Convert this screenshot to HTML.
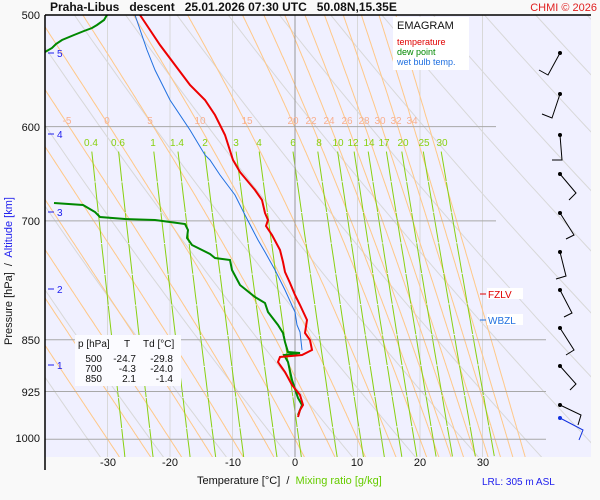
<!DOCTYPE html>
<html><head><meta charset="utf-8"><style>
html,body{margin:0;padding:0;background:#f9f9f9;}
svg{display:block;font-family:"Liberation Sans",sans-serif;}
</style></head><body>
<svg id="s" width="600" height="500" xmlns="http://www.w3.org/2000/svg">
<rect x="0" y="0" width="600" height="500" fill="#f9f9f9"/>
<rect x="45" y="15" width="546" height="442" fill="#f0f0ff"/>
<g id="bg"></g>
<g id="fg"></g>
</svg>
<script>
const NS="http://www.w3.org/2000/svg";
const bg=document.getElementById('bg'),fg=document.getElementById('fg');
const X=t=>295+6.25*t, Y=p=>15+612*Math.log(p/500);
function el(par,tag,at,txt){const e=document.createElementNS(NS,tag);for(const k in at)e.setAttribute(k,at[k]);if(txt!==undefined)e.textContent=txt;par.appendChild(e);return e;}
function poly(par,pts,st,w,da){const a={points:pts.map(p=>p[0].toFixed(1)+','+p[1].toFixed(1)).join(' '),fill:'none',stroke:st,'stroke-width':w};if(da)a['stroke-dasharray']=da;el(par,'polyline',a);}
const clip=el(bg,'clipPath',{id:'c'});el(clip,'rect',{x:45,y:15,width:546,height:442});
const g=el(bg,'g',{'clip-path':'url(#c)'});
for(let t=-30;t<=30;t+=10){if(t)el(g,'line',{x1:X(t),y1:15,x2:X(t),y2:457,stroke:'#d8d8d8','stroke-width':1});}
for(let th=230;th<=420;th+=10){const pts=[];for(let p=480;p<=1060;p+=10){pts.push([X(th*Math.pow(p/1000,0.286)-273.15),Y(p)]);}poly(g,pts,'#d8d8d8',1);}
function es(T){return 6.112*Math.exp(17.67*T/(T+243.5));}
function dT(p,T){const Tk=T+273.15,Rd=287,cp=1004,Lv=2.5e6,eps=0.622;const rs=eps*es(T)/(p-es(T));return (Rd*Tk+Lv*rs)/(p*(cp+Lv*Lv*rs*eps/(Rd*Tk*Tk)));}
function moist(tw){let T2=tw;for(let q=1000;q<1060;q+=2){T2+=2*dT(q,T2);}
 const arr=[];let Tp=T2;for(let q=1060;q>=480;q-=2){arr.push([X(Tp),Y(q)]);Tp-=2*dT(q,Tp);}return arr;}
[-30,-25,-20,-15,-10,-5,0,5,10,15,20,22,24,26,28,30,32,34,36].forEach(t=>poly(g,moist(t),'#ffc888',1));
[0.4,0.6,1,1.4,2,3,4,6,8,10,12,14,17,20,25,30].forEach(w=>{const pts=[];for(let p=625;p<=1060;p+=15){const e=w*p/(622+w);const l=Math.log(e/6.112);const td=243.5*l/(17.67-l);pts.push([X(td),Y(p)]);}poly(g,pts,'#88d010',1,'30 1');});
[[600,496],[700,496],[850,546],[925,546],[1000,546]].forEach(a=>el(g,'line',{x1:45,y1:Y(a[0]),x2:a[1],y2:Y(a[0]),stroke:'#a8a8a8','stroke-width':1}));
el(g,'line',{x1:295,y1:15,x2:295,y2:457,stroke:'#999','stroke-width':1});
[[-5,67],[0,107],[5,150],[10,200],[15,247],[20,293],[22,311],[24,329],[26,347],[28,364],[30,380],[32,396],[34,412]].forEach(a=>el(fg,'text',{x:a[1],y:124,'font-size':10,fill:'#f8b090','text-anchor':'middle'},a[0]));
[['0.4',91],['0.6',118],['1',153],['1.4',177],['2',205],['3',236],['4',259],['6',293],['8',319],['10',338],['12',353],['14',369],['17',384],['20',403],['25',424],['30',442]].forEach(a=>el(fg,'text',{x:a[1],y:146,'font-size':10,fill:'#88d010','text-anchor':'middle'},a[0]));
poly(fg,[[107,15],[104,20],[97,25],[92,28],[84,31],[74,35],[62,40],[56,44],[52,48],[45,52]],'#008800',2);
poly(fg,[[54,203],[83,205],[95,212],[100,217],[125,219],[155,220],[170,222],[185,224],[188,230],[187,238],[192,245],[210,254],[215,258],[230,260],[232,270],[240,285],[255,297],[265,303],[268,312],[278,325],[283,333],[285,342],[288,352],[300,353],[284,355],[288,362],[292,380],[298,398],[302,405],[300,410],[298,415]],'#008800',2);
poly(fg,[[135,15],[147,50],[155,70],[170,100],[190,130],[205,155],[210,160],[220,175],[235,195],[245,215],[258,240],[265,252],[275,270],[285,290],[295,312],[297,325],[300,332],[302,350]],'#2070e0',1);
poly(fg,[[140,15],[150,30],[160,45],[175,65],[190,85],[205,100],[215,115],[225,135],[233,160],[240,172],[255,190],[262,200],[265,213],[268,220],[266,226],[272,235],[280,250],[283,262],[285,272],[290,283],[295,295],[300,305],[307,320],[305,333],[310,340],[312,350],[302,355],[280,357],[278,362],[280,365],[285,372],[292,385],[300,395],[303,405],[300,410],[298,417]],'#ee0000',2);
[[5,55],[4,136],[3,214],[2,291],[1,367]].forEach(a=>{el(fg,'line',{x1:48,y1:a[1]-2,x2:54,y2:a[1]-2,stroke:'#2020ee'});el(fg,'text',{x:57,y:a[1]+2,'font-size':10,fill:'#2020ee'},a[0]);});
[[53,548,75,539,70],[94,552,118,542,114],[135,562,160,552,160],[174,576,193,569,200],[213,574,235,566,239],[252,566,276,556,279],[290,572,313,564,317],[328,574,350,566,355],[366,576,384,570,390],[405,581,415,578,425]].forEach(b=>{el(fg,'circle',{cx:560,cy:b[0],r:2,fill:'#000'});el(fg,'polyline',{points:`560,${b[0]} ${b[1]},${b[2]} ${b[3]},${b[4]}`,fill:'none',stroke:'#000','stroke-width':1});});
el(fg,'circle',{cx:560,cy:418,r:2,fill:'#1030e0'});el(fg,'polyline',{points:'560,418 583,430 579,440',fill:'none',stroke:'#1030e0','stroke-width':1});
</script>
<svg width="600" height="500" style="position:absolute;left:0;top:0" xmlns="http://www.w3.org/2000/svg" font-family="Liberation Sans, sans-serif">
<line x1="45" y1="15" x2="591" y2="15" stroke="#000" stroke-width="1.5"/>
<line x1="45" y1="15" x2="45" y2="470" stroke="#000" stroke-width="1.5"/>
<text x="50" y="11" font-size="12" font-weight="bold" fill="#111" style="white-space:pre" xml:space="preserve">Praha-Libus   descent   25.01.2026 07:30 UTC   50.08N,15.35E</text>
<text x="597" y="11" font-size="11" fill="#e02020" text-anchor="end">CHMI © 2026</text>
<g font-size="11" fill="#111" text-anchor="end">
<text x="40" y="19">500</text><text x="40" y="131">600</text><text x="40" y="225">700</text><text x="40" y="344">850</text><text x="40" y="396">925</text><text x="40" y="442">1000</text></g>
<g font-size="11" fill="#111" text-anchor="middle">
<text x="108" y="466">-30</text><text x="170" y="466">-20</text><text x="233" y="466">-10</text><text x="295" y="466">0</text><text x="357" y="466">10</text><text x="420" y="466">20</text><text x="483" y="466">30</text></g>
<text x="197" y="484" font-size="11" fill="#111" style="white-space:pre" xml:space="preserve">Temperature [°C]  /  <tspan fill="#66cc00">Mixing ratio [g/kg]</tspan></text>
<text x="482" y="485" font-size="10" fill="#2020ee">LRL: 305 m ASL</text>
<text transform="translate(12,345) rotate(-90)" font-size="11" fill="#111" style="white-space:pre" xml:space="preserve">Pressure [hPa]  /  <tspan fill="#2020ee">Altitude [km]</tspan></text>
<rect x="393" y="17" width="76" height="53" fill="#fff"/>
<text x="397" y="29" font-size="11" fill="#111">EMAGRAM</text>
<text x="397" y="45" font-size="9" fill="#e00000">temperature</text>
<text x="397" y="55" font-size="9" fill="#008800">dew point</text>
<text x="397" y="65" font-size="9" fill="#2070e0">wet bulb temp.</text>
<rect x="75" y="335" width="106" height="51" fill="#fbfbff"/>
<g font-size="10" fill="#111">
<text x="78" y="347">p [hPa]</text><text x="124" y="347">T</text><text x="143" y="347">Td [°C]</text>
<g text-anchor="end"><text x="102" y="362">500</text><text x="136" y="362">-24.7</text><text x="173" y="362">-29.8</text>
<text x="102" y="372">700</text><text x="136" y="372">-4.3</text><text x="173" y="372">-24.0</text>
<text x="102" y="382">850</text><text x="136" y="382">2.1</text><text x="173" y="382">-1.4</text></g></g>
<rect x="487" y="288" width="36" height="11" fill="#fff"/>
<line x1="480" y1="294" x2="486" y2="294" stroke="#e00000"/>
<text x="488" y="298" font-size="10" fill="#e00000">FZLV</text>
<rect x="487" y="314" width="36" height="11" fill="#fff"/>
<line x1="480" y1="320" x2="486" y2="320" stroke="#2070e0"/>
<text x="488" y="324" font-size="10" fill="#2070e0">WBZL</text>
</svg>
</body></html>
